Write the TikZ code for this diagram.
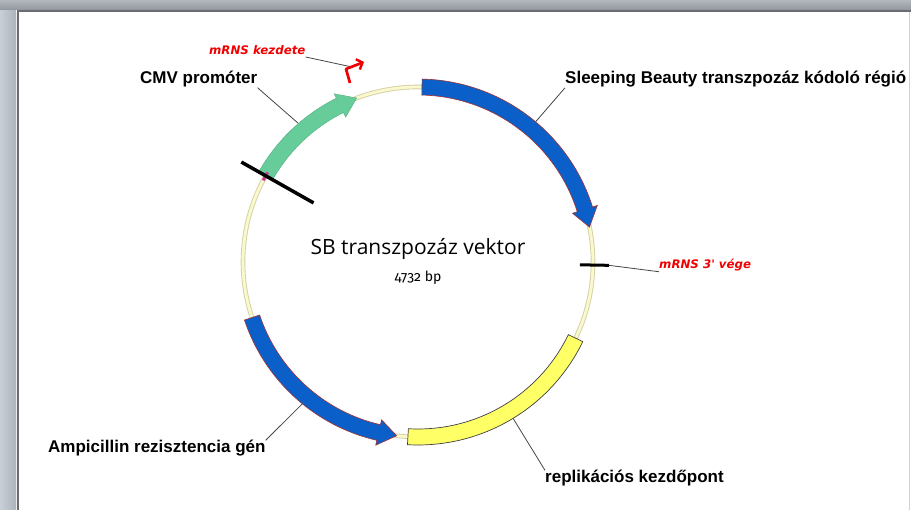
\documentclass[tikz,border=0pt]{standalone}
\usepackage{fontspec}
\setmainfont{Liberation Sans}
\newfontfamily\ctrfont{Open Sans}
\newfontfamily\bpfont[Numbers=OldStyle]{Fira Sans}
\newfontfamily\redfont{DejaVu Sans}[BoldItalicFont={DejaVu Sans Bold Oblique}]
\usetikzlibrary{arrows.meta}
\definecolor{sbblue}{RGB}{10,96,200}
\definecolor{cmvgreen}{RGB}{102,204,153}
\definecolor{oriyellow}{RGB}{255,255,102}
\definecolor{ringfill}{RGB}{250,248,205}
\definecolor{ringedge}{RGB}{212,208,165}
\definecolor{leadgray}{RGB}{70,70,70}
\definecolor{outlinered}{RGB}{160,50,50}
\definecolor{mrnsred}{RGB}{240,0,0}
\definecolor{pinkmark}{RGB}{200,60,150}
\definecolor{frameA}{RGB}{200,207,214}
\definecolor{frameB}{RGB}{172,179,187}
\definecolor{frameTop}{RGB}{160,165,172}
\definecolor{frameTopB}{RGB}{145,149,157}
\definecolor{frameDark}{RGB}{105,108,112}
\definecolor{frameLight}{RGB}{232,234,236}
\definecolor{frameRight}{RGB}{210,210,210}
\newcommand\arrowfeat[4]{%
  \filldraw[#4] (#1:183) arc[start angle=#1, end angle={#2+#3}, radius=183]
    -- ({#2+#3}:188) -- (#2:175) -- ({#2+#3}:162) -- ({#2+#3}:167)
    arc[start angle={#2+#3}, end angle=#1, radius=167] -- cycle;}
\tikzset{
  lbl/.style={font=\bfseries\fontsize{17}{20}\selectfont, inner sep=0pt},
  redlbl/.style={font=\redfont\bfseries\itshape\fontsize{11.8}{14}\selectfont, text=mrnsred, inner sep=0pt},
  leader/.style={draw=leadgray, line width=0.8pt},
}
\begin{document}
\begin{tikzpicture}[x=1pt,y=1pt]
\useasboundingbox (0,0) rectangle (911,510);
\fill[white] (0,0) rectangle (911,510);

% labels
\node[lbl, anchor=base west] (cmv) at (140,426) {CMV promóter};
\node[lbl, anchor=base west] (sb) at (565,426) {Sleeping Beauty transzpozáz kódoló régió};
\node[lbl, anchor=base west] (amp) at (48,57) {Ampicillin rezisztencia gén};
\node[lbl, anchor=base west] (ori) at (545,27) {replikációs kezdőpont};
\node[redlbl, anchor=base west] (mk) at (209,455) {mRNS kezdete};
\node[redlbl, anchor=base west] (mv) at (659,241) {mRNS 3' vége};
\node[font=\ctrfont\fontsize{21}{24}\selectfont, inner sep=0pt, anchor=base] (title) at (418,255) {SB transzpozáz vektor};
\node[font=\bpfont\fontsize{14}{16}\selectfont, inner sep=0pt, anchor=base] (bp) at (418,228) {4732 bp};

\begin{scope}[shift={(418,248)}]
  \coordinate (cmvpt) at (130.8:183);
  \coordinate (sbpt) at (50:183);
  \coordinate (amppt) at (230.8:183);
  \coordinate (oript) at (301.3:183);
  \coordinate (tickR) at (-1:191);
  \coordinate (tickL) at (-1:162);
  \coordinate (blkA) at (150.5:120);
  \coordinate (blkB) at (150.5:203);
\end{scope}
\coordinate (stem) at (350,427);
\coordinate (corner) at (346,441);
\coordinate (tip) at (364,448);
\coordinate (mkend) at (352,443);

% leader lines
\draw[leader] (cmv.south east) -- (cmvpt);
\draw[leader] (sb.south west) -- (sbpt);
\draw[leader] (amp.north east) -- (amppt);
\draw[leader] (ori.north west) -- (oript);
\draw[leader] ([yshift=-2pt]mk.base east) -- (mkend);
\draw[leader] (tickR) -- (mv.south west);

\begin{scope}[shift={(418,248)}]
  % backbone ring
  \draw[ringedge, line width=4.6pt] (0,0) circle[radius=175];
  \draw[ringfill, line width=2.8pt] (0,0) circle[radius=175];
  % features
  \arrowfeat{88.7}{11.5}{6}{fill=sbblue, draw=outlinered, line width=0.6pt}
  \arrowfeat{150}{110.5}{6}{fill=cmvgreen, draw=cmvgreen!85!black, line width=0.4pt}
  \arrowfeat{198.5}{263}{-6}{fill=sbblue, draw=outlinered, line width=0.6pt}
  \filldraw[fill=oriyellow, draw=black!75, line width=0.7pt]
    (266.7:183) arc[start angle=266.7, end angle=334.2, radius=183]
    -- (334.2:167) arc[start angle=334.2, end angle=266.7, radius=167] -- cycle;
  \draw[pinkmark, line width=3pt] (149.2:175) arc[start angle=149.2, end angle=152.2, radius=175];
\end{scope}
\draw[black, line width=3.5pt] (blkA) -- (blkB);
\draw[black, line width=3pt] (tickL) -- (tickR);
\draw[mrnsred, line width=2.7pt, line join=round, -{Straight Barb[length=5pt,width=11pt,line width=2.4pt]}] (stem) -- (corner) -- (tip);

% window frame
\shade[left color=frameA, right color=frameB] (0,0) rectangle (16,510);
\shade[top color=frameTop!80!white, bottom color=frameTopB] (0,500) rectangle (911,510);
\fill[frameLight] (16,0) rectangle (17,498);
\fill[frameDark] (17,0) rectangle (19,498);
\fill[frameDark] (17,498) rectangle (911,500);
\fill[frameRight] (908.5,0) rectangle (910,498);
\end{tikzpicture}
\end{document}
